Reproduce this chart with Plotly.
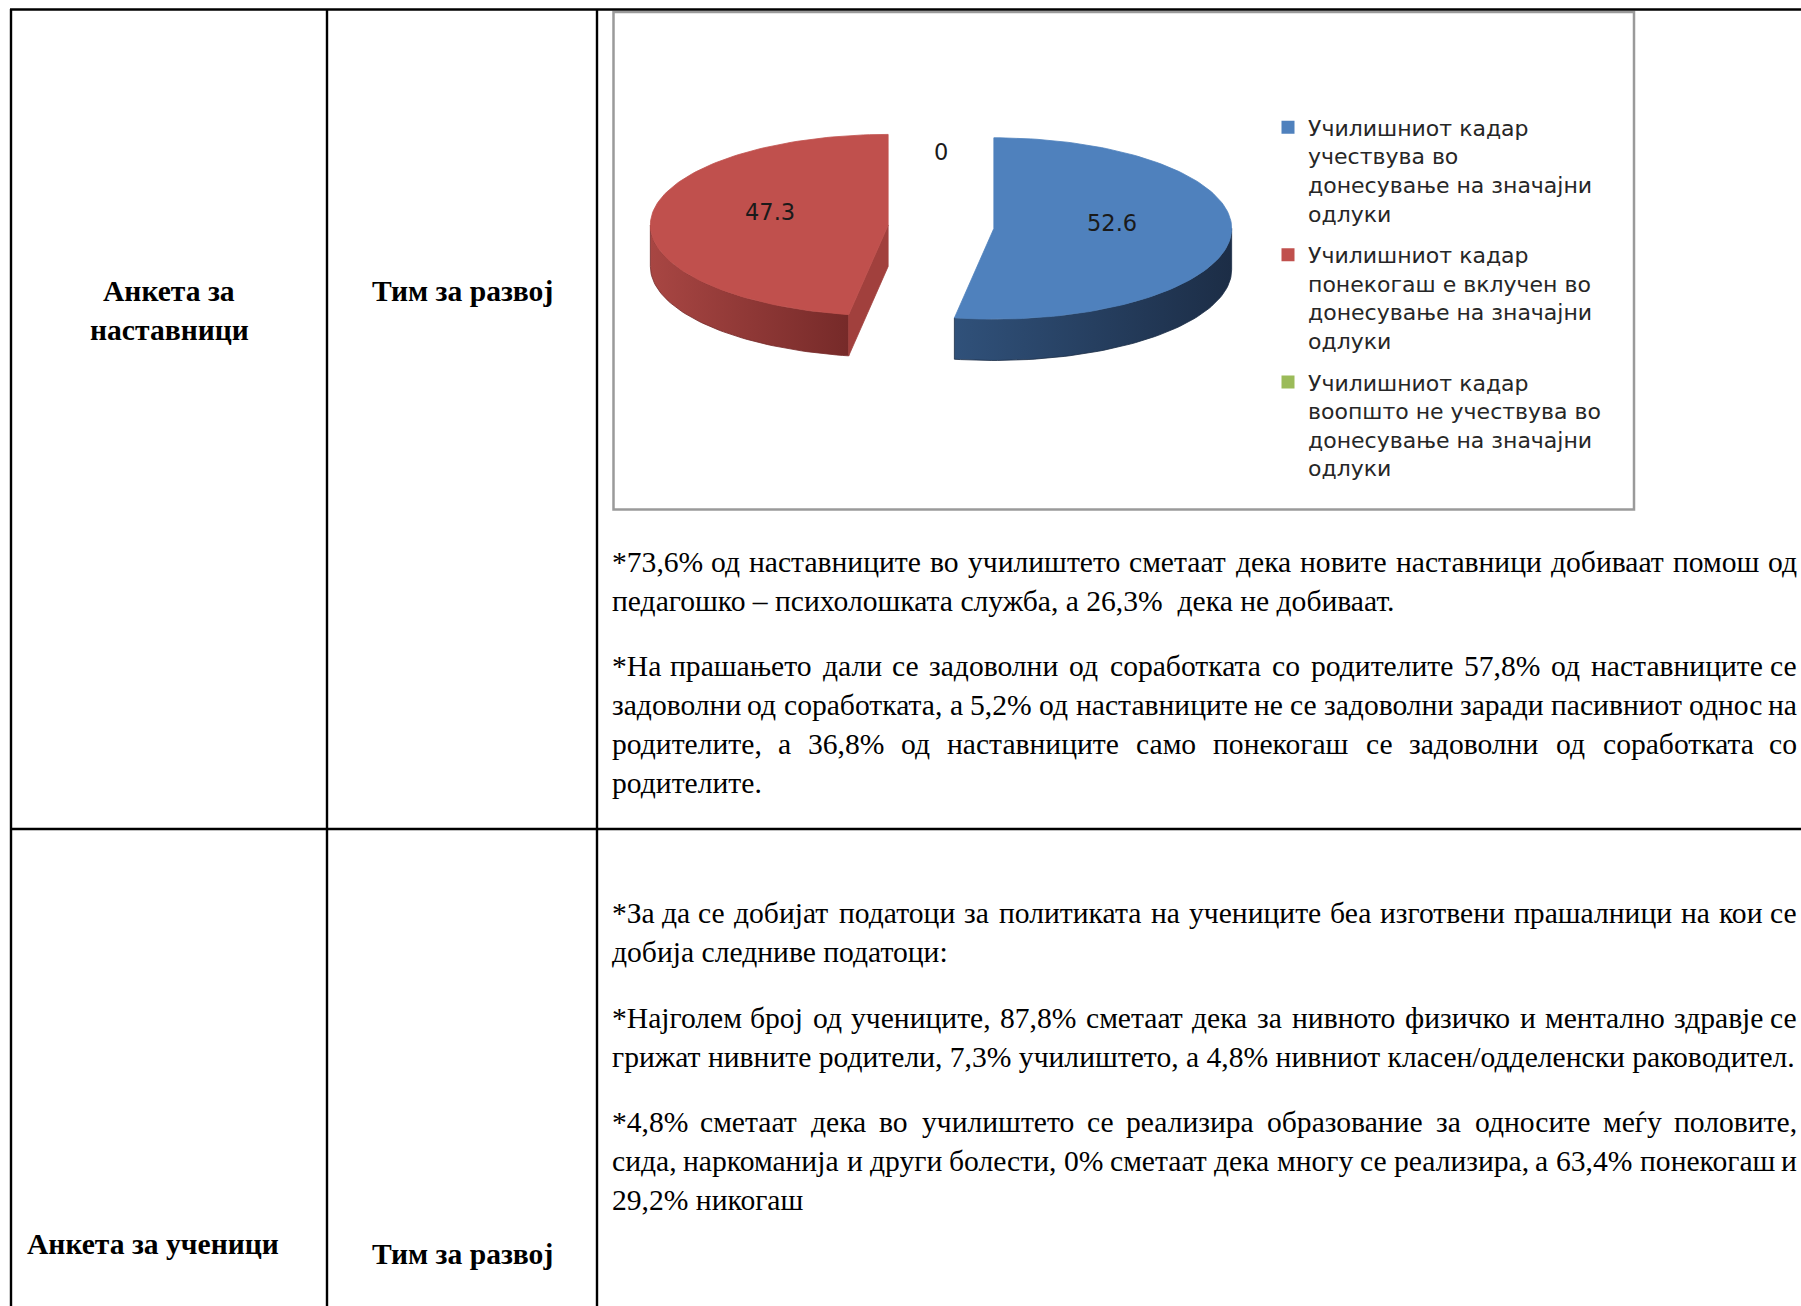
import math
import plotly.graph_objects as go

# ---------------- data ----------------
categories = [
    "Училишниот кадар<br>учествува во<br>донесување на значајни<br>одлуки",
    "Училишниот кадар<br>понекогаш е вклучен во<br>донесување на значајни<br>одлуки",
    "Училишниот кадар<br>воопшто не учествува во<br>донесување на значајни<br>одлуки",
]
values = [52.6, 47.3, 0]
value_labels = ["52.6", "47.3", "0"]

row1_label = ["Анкета за", "наставници"]
row2_label = ["Анкета за ученици"]
team_label = "Тим за развој"

# paragraphs: list of (line text, justified?)
para_teachers = [
    [("*73,6% од наставниците во училиштето сметаат дека новите наставници добиваат помош од", True),
     ("педагошко – психолошката служба, а 26,3%  дека не добиваат.", False)],
    [("*На прашањето  дали се задоволни од соработката со родителите 57,8% од наставниците се", True),
     ("задоволни од соработката, а 5,2% од наставниците не се задоволни заради пасивниот однос на", True),
     ("родителите, а 36,8% од наставниците само понекогаш се задоволни од соработката со", True),
     ("родителите.", False)],
]
para_students = [
    [("*За да се добијат податоци за политиката на учениците беа изготвени прашалници на кои се", True),
     ("добија следниве податоци:", False)],
    [("*Најголем број од учениците, 87,8% сметаат дека за нивното физичко и ментално здравје се", True),
     ("грижат нивните родители, 7,3% училиштето, а 4,8% нивниот класен/одделенски раководител.", False)],
    [("*4,8% сметаат дека во училиштето се  реализира образование за односите меѓу половите,", True),
     ("сида, наркоманија и други  болести, 0% сметаат дека многу се реализира, а 63,4% понекогаш и", True),
     ("29,2% никогаш", False)],
]

# ---------------- layout constants ----------------
W, H = 1801, 1306
SERIF = "Liberation Serif, Times New Roman, serif"
SANS = "DejaVu Sans, Verdana, sans-serif"
FS = 29.6
TEXT_L, TEXT_R = 610, 1799
teacher_baselines = [[571, 610], [675, 714, 753, 792]]
student_baselines = [[922, 961], [1027, 1066], [1131, 1170, 1209]]

CX, CY = 941.0, 226.8
A, B = 237.8, 90.7
DEPTH = 41.3
EXPLODE = 0.223

TOP_COL = ["#4F81BD", "#C0504D", "#9BBB59"]
WALL_GRAD = [["#30517A", "#1C2D46"], ["#A84643", "#762A29"], ["#7E9A48", "#5F7436"]]
FACE_COL = ["#2A4568", "#A1403D", "#7E9A48"]

fig = go.Figure()

# ---------------- 3D-like exploded pie ----------------
total = sum(values)
bounds = []
acc = 0.0
for v in values:
    span = 360.0 * v / total
    bounds.append((acc, acc + span))
    acc += span


def rim(cx, cy, th, dz=0.0):
    r = math.radians(th)
    return cx + A * math.sin(r), cy - B * math.cos(r) + dz


def arc(cx, cy, t0, t1, dz=0.0):
    n = max(2, int(abs(t1 - t0) / 1.5) + 2)
    pts = [rim(cx, cy, t0 + (t1 - t0) * k / (n - 1), dz) for k in range(n)]
    return [p[0] for p in pts], [p[1] for p in pts]


order = [1, 0, 2]
for i in order:
    s, e = bounds[i]
    if e - s <= 0:
        continue
    m = math.radians((s + e) / 2.0)
    ox = CX + EXPLODE * A * math.sin(m)
    oy = CY - EXPLODE * B * math.cos(m)
    # outer wall (front half)
    lo, hi = max(s, 90.0), min(e, 270.0)
    if hi > lo:
        tx, ty = arc(ox, oy, lo, hi)
        bx, by = arc(ox, oy, hi, lo, DEPTH)
        fig.add_trace(go.Scatter(
            x=tx + bx + [tx[0]], y=ty + by + [ty[0]], mode="lines", fill="toself",
            line=dict(width=0.8, color=WALL_GRAD[i][1]),
            fillgradient=dict(type="horizontal",
                              colorscale=[[0, WALL_GRAD[i][0]], [1, WALL_GRAD[i][1]]]),
            hoverinfo="skip", showlegend=False))
    # radial cut faces
    for th, vis in ((s, math.sin(math.radians(s)) < -1e-6),
                    (e, math.sin(math.radians(e)) > 1e-6)):
        if vis:
            px, py = rim(ox, oy, th)
            fig.add_trace(go.Scatter(
                x=[ox, px, px, ox, ox], y=[oy, py, py + DEPTH, oy + DEPTH, oy],
                mode="lines", fill="toself", fillcolor=FACE_COL[i],
                line=dict(width=0.8, color=FACE_COL[i]),
                hoverinfo="skip", showlegend=False))
    # top face
    ax_, ay_ = arc(ox, oy, s, e)
    fig.add_trace(go.Scatter(
        x=[ox] + ax_ + [ox], y=[oy] + ay_ + [oy], mode="lines", fill="toself",
        fillcolor=TOP_COL[i], line=dict(width=0.8, color=TOP_COL[i]),
        hoverinfo="skip", showlegend=False))

for i in range(len(values)):
    s, e = bounds[i]
    m = math.radians((s + e) / 2.0)
    ox = CX + EXPLODE * A * math.sin(m)
    oy = CY - EXPLODE * B * math.cos(m)
    lx = ox + 0.5 * A * math.sin(m)
    ly = oy - 0.5 * B * math.cos(m) - 9
    fig.add_annotation(x=lx, y=ly, xref="x", yref="y", text=value_labels[i],
                       showarrow=False, font=dict(family=SANS, size=22.5, color="#1A1A1A"))

# legend entries
for i, name in enumerate(categories):
    fig.add_trace(go.Scatter(
        x=[None], y=[None], mode="markers", name=name, legendgroup=f"g{i}",
        marker=dict(symbol="square", size=13, color=TOP_COL[i]),
        hoverinfo="skip"))

# ---------------- table lines & chart frame ----------------
line_k = dict(color="black", width=2.4)
shapes = [
    dict(type="line", x0=10, x1=W, y0=9.5, y1=9.5, line=line_k),
    dict(type="line", x0=10, x1=W, y0=829, y1=829, line=line_k),
    dict(type="line", x0=11, x1=11, y0=9, y1=H, line=line_k),
    dict(type="line", x0=327, x1=327, y0=9, y1=H, line=line_k),
    dict(type="line", x0=597, x1=597, y0=9, y1=H, line=line_k),
    dict(type="rect", x0=613.5, x1=1634, y0=12, y1=509.5,
         line=dict(color="#9A9A9A", width=2.5), layer="below"),
]
for sh in shapes:
    sh.update(xref="x", yref="y")

# ---------------- text ----------------
cw = {' ': 250, ',': 250, '.': 250, '%': 833, '*': 500, '–': 500, '/': 278, ':': 278,
      'а': 444, 'б': 500, 'в': 472, 'г': 410, 'д': 509, 'е': 444, 'ж': 691, 'з': 395,
      'и': 535, 'к': 486, 'л': 499, 'м': 633, 'н': 535, 'о': 500, 'п': 535, 'р': 500,
      'с': 444, 'т': 437, 'у': 500, 'ф': 648, 'х': 500, 'ц': 535, 'ч': 503, 'ш': 770,
      'ј': 278, 'љ': 715, 'њ': 746, 'ѓ': 410, 'ќ': 486, 'ѕ': 389, 'џ': 535,
      'З': 501, 'Н': 722, 'А': 722, 'Т': 611}


def wwidth(w):
    return sum(cw.get(c, 500) for c in w) / 1000.0 * FS


def add_line(text, just, base):
    yc = base - 9
    font = dict(family=SERIF, size=FS, color="black")
    if not just:
        fig.add_annotation(x=TEXT_L, y=yc, xref="x", yref="y",
                           text=text.replace("  ", " \u00a0"), showarrow=False,
                           xanchor="left", yanchor="middle", font=font)
        return
    words = text.split()
    widths = [wwidth(w) for w in words]
    gap = (TEXT_R - TEXT_L - sum(widths)) / (len(words) - 1)
    x = TEXT_L
    for k, (w, ww) in enumerate(zip(words, widths)):
        if k == 0:
            fig.add_annotation(x=TEXT_L, y=yc, xref="x", yref="y", text=w, showarrow=False,
                               xanchor="left", yanchor="middle", font=font)
        elif k == len(words) - 1:
            fig.add_annotation(x=TEXT_R, y=yc, xref="x", yref="y", text=w, showarrow=False,
                               xanchor="right", yanchor="middle", font=font)
        else:
            fig.add_annotation(x=x + ww / 2, y=yc, xref="x", yref="y", text=w, showarrow=False,
                               xanchor="center", yanchor="middle", font=font)
        x += ww + gap


for para, bases in zip(para_teachers, teacher_baselines):
    for (t, j), b in zip(para, bases):
        add_line(t, j, b)
for para, bases in zip(para_students, student_baselines):
    for (t, j), b in zip(para, bases):
        add_line(t, j, b)

bold = dict(family=SERIF, size=FS, color="black")
for t, b in zip(row1_label, [300, 339]):
    fig.add_annotation(x=169, y=b - 9, xref="x", yref="y", text=f"<b>{t}</b>", showarrow=False,
                       xanchor="center", yanchor="middle", font=bold)
fig.add_annotation(x=462, y=300 - 9, xref="x", yref="y", text=f"<b>{team_label}</b>",
                   showarrow=False, xanchor="center", yanchor="middle", font=bold)
fig.add_annotation(x=25, y=1253 - 9, xref="x", yref="y", text=f"<b>{row2_label[0]}</b>",
                   showarrow=False, xanchor="left", yanchor="middle", font=bold)
fig.add_annotation(x=462, y=1263 - 9, xref="x", yref="y", text=f"<b>{team_label}</b>",
                   showarrow=False, xanchor="center", yanchor="middle", font=bold)

fig.update_layout(
    width=W, height=H, margin=dict(l=0, r=0, t=0, b=0),
    paper_bgcolor="white", plot_bgcolor="white",
    xaxis=dict(range=[0, W], visible=False, fixedrange=True, domain=[0, 1]),
    yaxis=dict(range=[H, 0], visible=False, fixedrange=True, domain=[0, 1]),
    shapes=shapes,
    showlegend=True,
    legend=dict(x=1268 / W, xanchor="left", y=1 - 106.5 / H, yanchor="top",
                font=dict(family=SANS, size=22, color="#262626"),
                bgcolor="rgba(0,0,0,0)", tracegroupgap=10, itemwidth=30,
                valign="top", traceorder="grouped"),
)

fig.write_html("out.html", config={"displayModeBar": False},
               post_script="document.body.style.margin='0';document.body.style.overflow='hidden';")
